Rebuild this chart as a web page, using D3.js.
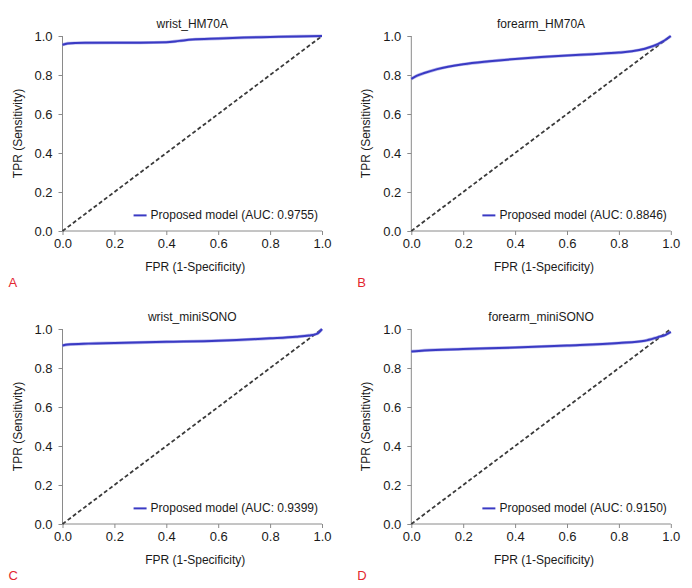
<!DOCTYPE html>
<html>
<head>
<meta charset="utf-8">
<script src="https://cdn.jsdelivr.net/npm/d3@7"></script>
<style>
  html, body { margin: 0; padding: 0; background: #fff; }
  svg { display: block; }
  text { font-family: "Liberation Sans", Arial, sans-serif; fill: #1a1a1a; }
</style>
</head>
<body>
<svg id="chart" width="692" height="588"></svg>
<script>
// ---- data ----
const panelTitles = ["wrist_HM70A", "forearm_HM70A", "wrist_miniSONO", "forearm_miniSONO"];
const panelLetters = ["A", "B", "C", "D"];
const aucLabels = ["0.9755", "0.8846", "0.9399", "0.9150"];
const tickValues = [0, 0.2, 0.4, 0.6, 0.8, 1.0];

const fprA = [0, 0.02, 0.05, 0.1, 0.2, 0.3, 0.4, 0.45, 0.5, 0.6, 0.7, 0.8, 0.9, 1.0];
const tprA = [0.955, 0.962, 0.964, 0.965, 0.966, 0.966, 0.968, 0.975, 0.982, 0.987, 0.992, 0.995, 0.998, 1.0];

const fprB = [0, 0.02, 0.05, 0.1, 0.2, 0.3, 0.4, 0.5, 0.6, 0.7, 0.8, 0.85, 0.9, 0.95, 0.97, 1.0];
const tprB = [0.78, 0.795, 0.81, 0.83, 0.855, 0.87, 0.882, 0.892, 0.9, 0.907, 0.915, 0.922, 0.935, 0.958, 0.972, 1.0];

const fprC = [0, 0.02, 0.1, 0.2, 0.4, 0.6, 0.8, 0.9, 0.95, 0.98, 1.0];
const tprC = [0.915, 0.92, 0.925, 0.928, 0.934, 0.94, 0.952, 0.96, 0.967, 0.975, 1.0];

const fprD = [0, 0.05, 0.2, 0.4, 0.6, 0.8, 0.9, 0.95, 0.98, 1.0];
const tprD = [0.885, 0.89, 0.897, 0.905, 0.915, 0.928, 0.94, 0.958, 0.97, 0.985];

const seriesFpr = [fprA, fprB, fprC, fprD];
const seriesTpr = [tprA, tprB, tprC, tprD];

// ---- layout ----
const panelOrigins = [[62.5, 36], [411.3, 36], [62.5, 329], [411.3, 329]];
const plotW = 259.5, plotH = 195;

const svg = d3.select("#chart");

panelTitles.forEach((title, i) => {
  const [ox, oy] = panelOrigins[i];
  const g = svg.append("g").attr("transform", `translate(${ox},${oy})`);
  const x = d3.scaleLinear().domain([0, 1]).range([0, plotW]);
  const y = d3.scaleLinear().domain([0, 1]).range([plotH, 0]);

  // axes
  const xAxis = d3.axisBottom(x).tickValues(tickValues).tickFormat(d3.format(".1f")).tickSize(4).tickPadding(4);
  const yAxis = d3.axisLeft(y).tickValues(tickValues).tickFormat(d3.format(".1f")).tickSize(4).tickPadding(6);
  const gx = g.append("g").attr("transform", `translate(0,${plotH})`).call(xAxis);
  const gy = g.append("g").call(yAxis);
  [gx, gy].forEach(a => {
    a.selectAll("path.domain").attr("stroke", "#8a8a8a").attr("stroke-width", 1);
    a.selectAll(".tick line").attr("stroke", "#8a8a8a");
    a.selectAll("text").attr("font-size", 13).attr("fill", "#1a1a1a")
      .attr("font-family", "'Liberation Sans', Arial, sans-serif");
  });
  gx.select("path.domain").attr("d", `M0,0H${plotW}`);
  gy.select("path.domain").attr("d", `M0,0V${plotH}`);

  // diagonal
  g.append("line")
    .attr("x1", x(0)).attr("y1", y(0)).attr("x2", x(1)).attr("y2", y(1))
    .attr("stroke", "#3a3a3a").attr("stroke-width", 1.8).attr("stroke-dasharray", "4,2.5");

  // ROC curve
  const pts = seriesFpr[i].map((f, k) => [f, seriesTpr[i][k]]);
  const line = d3.line().x(d => x(d[0])).y(d => y(d[1])).curve(d3.curveMonotoneX);
  g.append("path").datum(pts).attr("d", line)
    .attr("fill", "none").attr("stroke", "#8a8ae0").attr("stroke-width", 3.2).attr("opacity", 0.6);
  g.append("path").datum(pts).attr("d", line)
    .attr("fill", "none").attr("stroke", "#3a3ac4").attr("stroke-width", 2);

  // title
  g.append("text").attr("x", plotW / 2).attr("y", -8).attr("text-anchor", "middle")
    .attr("font-size", 12).text(title);

  // axis labels
  g.append("text").attr("x", plotW / 2 + 3).attr("y", plotH + 40).attr("text-anchor", "middle")
    .attr("font-size", 12).text("FPR (1-Specificity)");
  g.append("text").attr("transform", `translate(${-41},${plotH / 2}) rotate(-90)`)
    .attr("text-anchor", "middle").attr("font-size", 12).text("TPR (Sensitivity)");

  // legend
  const legText = g.append("text").attr("x", plotW - 4).attr("y", y(0.08) + 4)
    .attr("text-anchor", "end").attr("font-size", 12)
    .text(`Proposed model (AUC: ${aucLabels[i]})`);
  const bb = legText.node().getBBox();
  g.append("line").attr("x1", bb.x - 17).attr("x2", bb.x - 4)
    .attr("y1", y(0.08)).attr("y2", y(0.08))
    .attr("stroke", "#3a3ac4").attr("stroke-width", 2);

  // panel letter
  svg.append("text").attr("x", ox - 54).attr("y", oy + plotH + 56)
    .attr("font-family", "'Open Sans', sans-serif").attr("font-size", 13)
    .style("fill", "#e3262f").text(panelLetters[i]);
});
</script>
</body>
</html>
